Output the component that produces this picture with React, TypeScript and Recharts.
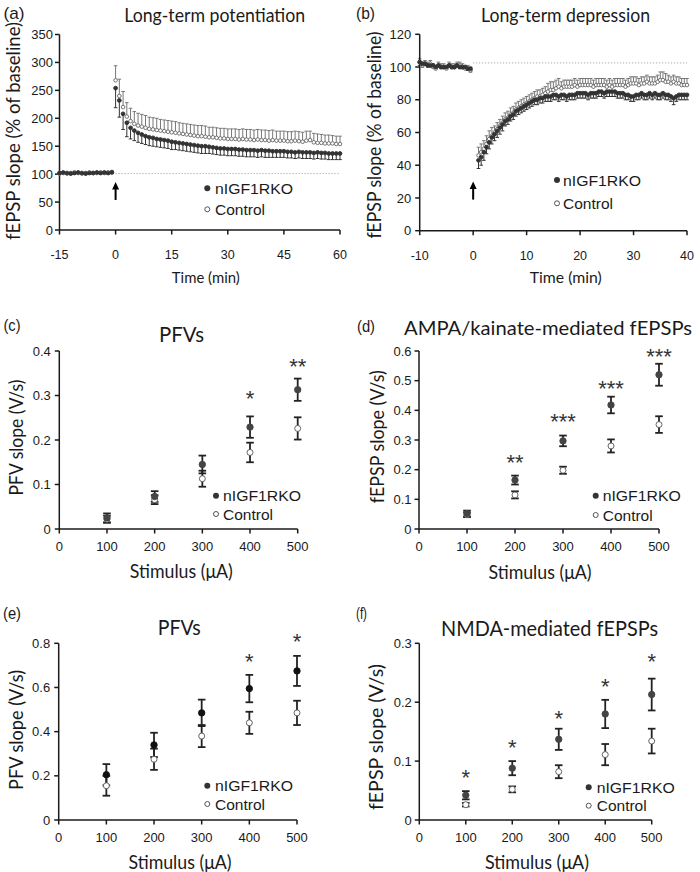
import React from "react";
import { ScatterChart, Scatter, XAxis, YAxis, ErrorBar, ReferenceLine, ReferenceDot } from "recharts";

// (a) LTP time course, 1 min bins
const LTP_TIME = [
  -15, -14, -13, -12, -11, -10, -9, -8, -7, -6, -5, -4, -3, -2, -1,
  0, 1, 2, 3, 4, 5, 6, 7, 8, 9, 10, 11, 12, 13, 14, 15, 16, 17, 18, 19,
  20, 21, 22, 23, 24, 25, 26, 27, 28, 29, 30, 31, 32, 33, 34, 35, 36, 37, 38, 39,
  40, 41, 42, 43, 44, 45, 46, 47, 48, 49, 50, 51, 52, 53, 54, 55, 56, 57, 58, 59, 60,
];
const LTP_KO = [
  102, 103, 102, 101, 102, 103, 102, 101, 102, 102, 103, 102, 103, 102, 103,
  254, 232, 208, 192, 183, 178, 174, 171, 168, 166,
  165, 163, 162, 161, 160, 158, 157, 156, 155, 154,
  153, 152, 151, 150, 150, 149, 148, 147, 146, 146,
  145, 145, 145, 144, 144, 143, 143, 143, 142, 143,
  142, 142, 141, 141, 141, 141, 140, 140, 139, 140,
  139, 139, 139, 138, 139, 138, 138, 137, 137, 137,
  137,
];
const LTP_KO_SEM = [
  2, 2, 2, 2, 2, 2, 2, 2, 2, 2, 2, 2, 2, 2, 2,
  35, 30, 28, 25, 20, 18, 17, 16, 15, 15,
  15, 14, 14, 14, 14, 14, 13, 13, 13, 13,
  13, 13, 13, 13, 13, 12, 12, 12, 12, 12,
  12, 12, 12, 12, 12, 12, 12, 12, 12, 12,
  12, 12, 11, 11, 11, 11, 11, 11, 11, 11,
  11, 11, 11, 11, 11, 11, 11, 11, 11, 11,
  11,
];
const LTP_CTRL = [
  101, 102, 101, 102, 103, 102, 101, 102, 103, 102, 102, 103, 102, 103, 104,
  268, 240, 220, 203, 195, 190, 187, 185, 183, 181,
  180, 179, 178, 177, 176, 175, 174, 173, 172, 171,
  170, 169, 168, 168, 167, 166, 166, 165, 164, 164,
  163, 163, 163, 162, 163, 162, 162, 161, 162, 161,
  161, 160, 161, 160, 160, 160, 159, 159, 160, 159,
  158, 160, 161, 157, 156, 156, 155, 155, 155, 154,
  154,
];
const LTP_CTRL_SEM = [
  2, 2, 2, 2, 2, 2, 2, 2, 2, 2, 2, 2, 2, 2, 2,
  26, 30, 28, 25, 23, 22, 22, 22, 22, 21,
  21, 21, 20, 20, 20, 20, 20, 19, 19, 19,
  19, 19, 19, 19, 19, 18, 18, 18, 18, 18,
  18, 18, 18, 18, 18, 18, 18, 18, 18, 18,
  18, 18, 18, 17, 17, 17, 17, 17, 17, 17,
  17, 17, 16, 16, 16, 15, 15, 15, 14, 14,
  14,
];

// (b) LTD time course, 30 s bins
const LTD_TIME = [
  -10, -9.5, -9, -8.5, -8, -7.5, -7, -6.5, -6, -5.5, -5, -4.5, -4, -3.5, -3, -2.5, -2, -1.5, -1, -0.5,
  1, 1.5, 2, 2.5, 3, 3.5, 4, 4.5, 5, 5.5,
  6, 6.5, 7, 7.5, 8, 8.5, 9, 9.5, 10, 10.5,
  11, 11.5, 12, 12.5, 13, 13.5, 14, 14.5, 15, 15.5,
  16, 16.5, 17, 17.5, 18, 18.5, 19, 19.5, 20, 20.5,
  21, 21.5, 22, 22.5, 23, 23.5, 24, 24.5, 25, 25.5,
  26, 26.5, 27, 27.5, 28, 28.5, 29, 29.5, 30, 30.5,
  31, 31.5, 32, 32.5, 33, 33.5, 34, 34.5, 35, 35.5,
  36, 36.5, 37, 37.5, 38, 38.5, 39, 39.5, 40,
];
const LTD_KO = [
  103, 102, 102, 101, 101, 101, 100, 101, 100, 100, 100, 101, 100, 100, 101, 100, 100, 100, 99, 99,
  43, 45, 48, 51, 54, 57, 59, 61, 63, 65,
  67, 68, 70, 71, 73, 74, 75, 76, 77, 78,
  79, 80, 80, 81, 81, 82, 82, 82, 83, 83,
  82, 83, 83, 82, 83, 83, 83, 84, 84, 84,
  84, 83, 84, 84, 84, 85, 85, 84, 85, 85,
  85, 85, 84, 84, 84, 83, 83, 82, 82, 83,
  83, 84, 83, 83, 84, 83, 84, 83, 83, 84,
  83, 83, 82, 81, 82, 83, 83, 83, 83,
];
const LTD_KO_SEM = [
  2, 2, 1, 1, 1, 1, 1, 1, 1, 1, 1, 1, 1, 1, 1, 1, 1, 1, 1, 2,
  5, 5, 5, 4, 4, 4, 4, 4, 4, 4,
  3, 3, 3, 3, 3, 3, 3, 3, 3, 3,
  3, 3, 3, 3, 3, 3, 3, 3, 3, 3,
  3, 3, 3, 3, 3, 3, 3, 3, 3, 3,
  3, 3, 3, 3, 3, 3, 3, 3, 3, 3,
  3, 3, 3, 3, 3, 3, 3, 3, 3, 3,
  3, 3, 3, 3, 3, 3, 3, 3, 3, 3,
  3, 3, 3, 4, 3, 3, 3, 3, 3,
];
const LTD_CTRL = [
  103, 101, 102, 101, 102, 100, 99, 101, 100, 100, 99, 101, 100, 100, 101, 101, 100, 99, 99, 98,
  46, 48, 50, 53, 56, 58, 60, 62, 64, 66,
  68, 69, 71, 72, 74, 75, 76, 77, 78, 79,
  80, 81, 82, 82, 83, 84, 85, 86, 86, 87,
  88, 87, 88, 88, 88, 88, 89, 88, 89, 89,
  89, 89, 89, 88, 89, 89, 89, 89, 88, 89,
  88, 89, 89, 89, 89, 88, 89, 90, 90, 90,
  89, 90, 90, 91, 90, 90, 90, 91, 92, 92,
  91, 91, 90, 91, 90, 90, 89, 89, 89,
];
const LTD_CTRL_SEM = [
  2, 2, 2, 2, 2, 2, 2, 2, 2, 2, 2, 2, 2, 2, 2, 2, 2, 2, 2, 2,
  5, 5, 5, 5, 5, 5, 4, 4, 4, 4,
  4, 4, 4, 4, 4, 4, 4, 4, 4, 4,
  4, 4, 4, 4, 4, 4, 5, 5, 5, 5,
  5, 4, 4, 4, 4, 4, 4, 4, 4, 4,
  4, 4, 4, 4, 4, 4, 4, 4, 4, 4,
  4, 4, 4, 4, 4, 4, 4, 4, 4, 4,
  4, 4, 4, 4, 4, 4, 4, 4, 5, 5,
  5, 4, 4, 4, 4, 4, 4, 4, 4,
];

// (c)-(f) input/output curves
const STIM = [100, 200, 300, 400, 500];

const C_KO = [0.025, 0.073, 0.145, 0.229, 0.313];
const C_KO_SEM = [0.01, 0.012, 0.02, 0.024, 0.025];
const C_CTRL = [0.022, 0.066, 0.113, 0.172, 0.226];
const C_CTRL_SEM = [0.008, 0.01, 0.018, 0.022, 0.025];
const C_SIG_X = [400, 500];
const C_SIG_Y = [0.305, 0.376];
const C_SIG = ["*", "**"];

const D_KO = [0.052, 0.165, 0.297, 0.418, 0.52];
const D_KO_SEM = [0.01, 0.015, 0.018, 0.028, 0.037];
const D_CTRL = [0.048, 0.115, 0.198, 0.28, 0.352];
const D_CTRL_SEM = [0.008, 0.012, 0.012, 0.022, 0.028];
const D_SIG_X = [200, 300, 400, 500];
const D_SIG_Y = [0.24, 0.378, 0.49, 0.6];
const D_SIG = ["**", "***", "***", "***"];

const E_KO = [0.205, 0.34, 0.485, 0.595, 0.675];
const E_KO_SEM = [0.048, 0.055, 0.06, 0.062, 0.068];
const E_CTRL = [0.155, 0.275, 0.38, 0.44, 0.485];
const E_CTRL_SEM = [0.045, 0.048, 0.05, 0.05, 0.055];
const E_SIG_X = [400, 500];
const E_SIG_Y = [0.74, 0.83];
const E_SIG = ["*", "*"];

const F_KO = [0.042, 0.088, 0.137, 0.18, 0.213];
const F_KO_SEM = [0.007, 0.012, 0.018, 0.024, 0.027];
const F_CTRL = [0.026, 0.052, 0.082, 0.111, 0.134];
const F_CTRL_SEM = [0.003, 0.005, 0.011, 0.018, 0.021];
const F_SIG_X = [100, 200, 300, 400, 500];
const F_SIG_Y = [0.08, 0.131, 0.181, 0.235, 0.277];
const F_SIG = ["*", "*", "*", "*", "*"];

const ARIAL = "Liberation Sans, Arial, sans-serif";
const CALIBRI = "Lato, Open Sans, sans-serif";
const AXIS = { stroke: "#1a1a1a", strokeWidth: 1.5 };

type Pt = { x: number; y: number; err: number | number[] };

function twoSided(xs: number[], ys: number[], sem: number[]): Pt[] {
  return xs.map((x, i) => ({ x, y: ys[i], err: sem[i] }));
}
function down(xs: number[], ys: number[], sem: number[]): Pt[] {
  return xs.map((x, i) => ({ x, y: ys[i], err: [sem[i], 0] }));
}
function up(xs: number[], ys: number[], sem: number[]): Pt[] {
  return xs.map((x, i) => ({ x, y: ys[i], err: [0, sem[i]] }));
}

type Series = {
  name: string;
  data: Pt[];
  r: number;
  fill: string;
  stroke: string;
  bar: string;
  barW: number;
  cap: number;
};

function dotShape(s: Series) {
  return (p: any) => (
    <circle cx={p.cx} cy={p.cy} r={s.r} fill={s.fill} stroke={s.stroke} strokeWidth={0.9} />
  );
}

function arrowShape(p: any) {
  return (
    <g>
      <line x1={p.cx} y1={p.cy + 6} x2={p.cx} y2={p.cy + 18} stroke="#000" strokeWidth={2} />
      <path d={`M${p.cx},${p.cy} L${p.cx - 3.5},${p.cy + 7.5} L${p.cx + 3.5},${p.cy + 7.5} Z`} fill="#000" />
    </g>
  );
}

function starShape(label: string) {
  return (p: any) => (
    <text x={p.cx} y={p.cy + 12.5} textAnchor="middle" fontFamily={ARIAL} fontSize={22} fill="#333">
      {label}
    </text>
  );
}

type Box = { x: number; y: number; w: number; h: number };
type Plot = { l: number; t: number; r: number; b: number };

function Panel(props: {
  box: Box;
  plot: Plot;
  xDomain: number[];
  xTicks: number[];
  yDomain: number[];
  yTicks: number[];
  xGap: number;
  yGap: number;
  xFont: number;
  series: Series[];
  base?: number;
  arrowY?: number;
  sigX?: number[];
  sigY?: number[];
  sig?: string[];
}) {
  const { box, plot } = props;
  const XH = 40;
  const YW = 45;
  const margin = {
    top: plot.t - box.y,
    right: box.x + box.w - plot.r,
    bottom: box.y + box.h - plot.b - XH,
    left: plot.l - box.x - YW,
  };
  return (
    <div style={{ position: "absolute", left: box.x, top: box.y, width: box.w, height: box.h }}>
      <ScatterChart width={box.w} height={box.h} margin={margin}>
        <XAxis
          type="number"
          dataKey="x"
          domain={props.xDomain}
          ticks={props.xTicks}
          interval={0}
          height={XH}
          tick={{ fontFamily: ARIAL, fontSize: props.xFont, fill: "#1a1a1a" }}
          tickSize={4.5}
          tickMargin={props.xGap}
          axisLine={AXIS}
          tickLine={AXIS}
        />
        <YAxis
          type="number"
          dataKey="y"
          domain={props.yDomain}
          ticks={props.yTicks}
          interval={0}
          width={YW}
          tick={{ fontFamily: ARIAL, fontSize: 13, fill: "#1a1a1a" }}
          tickSize={4.5}
          tickMargin={props.yGap}
          axisLine={AXIS}
          tickLine={AXIS}
        />
        {props.base !== undefined && (
          <ReferenceLine
            segment={[
              { x: 0, y: props.base },
              { x: props.xDomain[1], y: props.base },
            ]}
            stroke="#9a9a9a"
            strokeDasharray="1 2"
          />
        )}
        {props.series.map((s) => (
          <Scatter key={s.name} name={s.name} data={s.data} isAnimationActive={false} shape={dotShape(s)}>
            <ErrorBar dataKey="err" direction="y" width={s.cap} stroke={s.bar} strokeWidth={s.barW} />
          </Scatter>
        ))}
        {props.arrowY !== undefined && (
          <ReferenceDot x={0} y={props.arrowY} ifOverflow="visible" shape={arrowShape} />
        )}
        {props.sigX &&
          props.sigX.map((sx, i) => (
            <ReferenceDot
              key={"s" + i}
              x={sx}
              y={props.sigY![i]}
              ifOverflow="visible"
              shape={starShape(props.sig![i])}
            />
          ))}
      </ScatterChart>
    </div>
  );
}

function timeSeries(t: number[], ko: number[], koSem: number[], ctrl: number[], ctrlSem: number[]): Series[] {
  return [
    { name: "Control", data: up(t, ctrl, ctrlSem), r: 1.8, fill: "#fff", stroke: "#666", bar: "#777", barW: 1, cap: 1.8 },
    { name: "nIGF1RKO", data: down(t, ko, koSem), r: 1.9, fill: "#333", stroke: "#333", bar: "#333", barW: 1, cap: 1.8 },
  ];
}

function stimSeries(ko: number[], koSem: number[], ctrl: number[], ctrlSem: number[], koFill: string): Series[] {
  return [
    { name: "Control", data: twoSided(STIM, ctrl, ctrlSem), r: 3, fill: "#fff", stroke: "#555", bar: "#222", barW: 1.8, cap: 3.8 },
    { name: "nIGF1RKO", data: twoSided(STIM, ko, koSem), r: 3.2, fill: koFill, stroke: koFill, bar: "#222", barW: 1.8, cap: 3.8 },
  ];
}

function Legend({ x, y1, y2, tx }: { x: number; y1: number; y2: number; tx: number }) {
  return (
    <g>
      <circle cx={x} cy={y1} r={3} fill="#333" />
      <text
        x={tx}
        y={y1}
        dominantBaseline="central"
        fontFamily={ARIAL}
        fontSize={15}
        fill="#1a1a1a"
        textLength={78}
        lengthAdjust="spacingAndGlyphs"
      >
        nIGF1RKO
      </text>
      <circle cx={x} cy={y2} r={2.5} fill="#fff" stroke="#555" strokeWidth={1} />
      <text
        x={tx}
        y={y2}
        dominantBaseline="central"
        fontFamily={ARIAL}
        fontSize={15}
        fill="#1a1a1a"
        textLength={50}
        lengthAdjust="spacingAndGlyphs"
      >
        Control
      </text>
    </g>
  );
}

function Label({ x, y, size, len, rot, children, font }: any) {
  return (
    <text
      transform={`translate(${x},${y})${rot ? " rotate(-90)" : ""}`}
      textAnchor="middle"
      dominantBaseline="central"
      fontFamily={font || CALIBRI}
      fontSize={size}
      fill="#1a1a1a"
      textLength={len}
      lengthAdjust="spacingAndGlyphs"
    >
      {children}
    </text>
  );
}

export default function App() {
  return (
    <div style={{ position: "absolute", left: 0, top: 0, width: 700, height: 872, background: "#fff" }}>
      <Panel
        box={{ x: 0, y: 0, w: 350, h: 290 }}
        plot={{ l: 59.5, t: 34.5, r: 340, b: 230 }}
        xDomain={[-15, 60]}
        xTicks={[-15, 0, 15, 30, 45, 60]}
        yDomain={[0, 350]}
        yTicks={[0, 50, 100, 150, 200, 250, 300, 350]}
        xGap={16}
        yGap={2}
        xFont={12.5}
        series={timeSeries(LTP_TIME, LTP_KO, LTP_KO_SEM, LTP_CTRL, LTP_CTRL_SEM)}
        base={101}
        arrowY={86}
      />
      <Panel
        box={{ x: 350, y: 0, w: 350, h: 290 }}
        plot={{ l: 419.7, t: 34.3, r: 687, b: 230.7 }}
        xDomain={[-10, 40]}
        xTicks={[-10, 0, 10, 20, 30, 40]}
        yDomain={[0, 120]}
        yTicks={[0, 20, 40, 60, 80, 100, 120]}
        xGap={16}
        yGap={4}
        xFont={12.5}
        series={timeSeries(LTD_TIME, LTD_KO, LTD_KO_SEM, LTD_CTRL, LTD_CTRL_SEM)}
        base={102.5}
        arrowY={30}
      />
      <Panel
        box={{ x: 0, y: 290, w: 350, h: 290 }}
        plot={{ l: 59.3, t: 351, r: 297.7, b: 529 }}
        xDomain={[0, 500]}
        xTicks={[0, 100, 200, 300, 400, 500]}
        yDomain={[0, 0.4]}
        yTicks={[0, 0.1, 0.2, 0.3, 0.4]}
        xGap={8}
        yGap={4}
        xFont={13}
        series={stimSeries(C_KO, C_KO_SEM, C_CTRL, C_CTRL_SEM, "#444")}
        sigX={C_SIG_X}
        sigY={C_SIG_Y}
        sig={C_SIG}
      />
      <Panel
        box={{ x: 350, y: 290, w: 350, h: 290 }}
        plot={{ l: 419, t: 351, r: 659, b: 529 }}
        xDomain={[0, 500]}
        xTicks={[0, 100, 200, 300, 400, 500]}
        yDomain={[0, 0.6]}
        yTicks={[0, 0.1, 0.2, 0.3, 0.4, 0.5, 0.6]}
        xGap={8}
        yGap={3}
        xFont={13}
        series={stimSeries(D_KO, D_KO_SEM, D_CTRL, D_CTRL_SEM, "#444")}
        sigX={D_SIG_X}
        sigY={D_SIG_Y}
        sig={D_SIG}
      />
      <Panel
        box={{ x: 0, y: 580, w: 350, h: 292 }}
        plot={{ l: 58.7, t: 643.3, r: 297, b: 820 }}
        xDomain={[0, 500]}
        xTicks={[0, 100, 200, 300, 400, 500]}
        yDomain={[0, 0.8]}
        yTicks={[0, 0.2, 0.4, 0.6, 0.8]}
        xGap={8}
        yGap={4}
        xFont={13}
        series={stimSeries(E_KO, E_KO_SEM, E_CTRL, E_CTRL_SEM, "#111")}
        sigX={E_SIG_X}
        sigY={E_SIG_Y}
        sig={E_SIG}
      />
      <Panel
        box={{ x: 350, y: 580, w: 350, h: 292 }}
        plot={{ l: 419.3, t: 643.3, r: 651.7, b: 820 }}
        xDomain={[0, 500]}
        xTicks={[0, 100, 200, 300, 400, 500]}
        yDomain={[0, 0.3]}
        yTicks={[0, 0.1, 0.2, 0.3]}
        xGap={8}
        yGap={3}
        xFont={13}
        series={stimSeries(F_KO, F_KO_SEM, F_CTRL, F_CTRL_SEM, "#444")}
        sigX={F_SIG_X}
        sigY={F_SIG_Y}
        sig={F_SIG}
      />

      <svg
        width={700}
        height={872}
        style={{ position: "absolute", left: 0, top: 0, pointerEvents: "none" }}
      >
        {/* panel letters */}
        <Label x={14} y={13} size={17} len={21} font={ARIAL}>(a)</Label>
        <Label x={365.5} y={13} size={17} len={19} font={ARIAL}>(b)</Label>
        <Label x={12} y={325} size={16} len={17} font={ARIAL}>(c)</Label>
        <Label x={366} y={326.7} size={16} len={18} font={ARIAL}>(d)</Label>
        <Label x={12} y={613} size={16} len={18} font={ARIAL}>(e)</Label>
        <Label x={361.5} y={613} size={16} len={11} font={ARIAL}>(f)</Label>

        {/* titles */}
        <Label x={214.7} y={14} size={19} len={181}>Long-term potentiation</Label>
        <Label x={565.5} y={14} size={19} len={169}>Long-term depression</Label>
        <Label x={181.5} y={333} size={22} len={45}>PFVs</Label>
        <Label x={548} y={327} size={20} len={288}>AMPA/kainate-mediated fEPSPs</Label>
        <Label x={179.3} y={626} size={22} len={43}>PFVs</Label>
        <Label x={549.5} y={627} size={22} len={217}>NMDA-mediated fEPSPs</Label>

        {/* axis titles */}
        <Label x={12} y={131} size={20} len={218} rot>fEPSP slope (% of baseline)</Label>
        <Label x={205.8} y={276} size={16} len={68}>Time (min)</Label>
        <Label x={372.7} y={135} size={20} len={207} rot>fEPSP slope (% of baseline)</Label>
        <Label x={565.8} y={276} size={16} len={72}>Time (min)</Label>

        <Label x={15} y={437.5} size={19} len={116} rot>PFV slope (V/s)</Label>
        <Label x={181.3} y={570} size={19} len={103}>Stimulus (μA)</Label>
        <Label x={376.7} y={436.7} size={19} len={133} rot>fEPSP slope  (V/s)</Label>
        <Label x={540} y={571} size={19} len={103}>Stimulus (μA)</Label>

        <Label x={15} y={730} size={19} len={120} rot>PFV slope  (V/s)</Label>
        <Label x={180} y={861} size={19} len={103}>Stimulus (μA)</Label>
        <Label x={375} y={737} size={19} len={146} rot>fEPSP slope  (V/s)</Label>
        <Label x={537} y={861} size={19} len={104}>Stimulus (μA)</Label>

        {/* legends */}
        <Legend x={207.3} y1={188.3} y2={209.3} tx={215} />
        <Legend x={557} y1={180} y2={203.3} tx={563} />
        <Legend x={216} y1={495.7} y2={514} tx={223} />
        <Legend x={595.7} y1={495.7} y2={515} tx={602.7} />
        <Legend x={207.3} y1={785.7} y2={804} tx={215} />
        <Legend x={588.7} y1={787.3} y2={805.7} tx={596.7} />
      </svg>
    </div>
  );
}
